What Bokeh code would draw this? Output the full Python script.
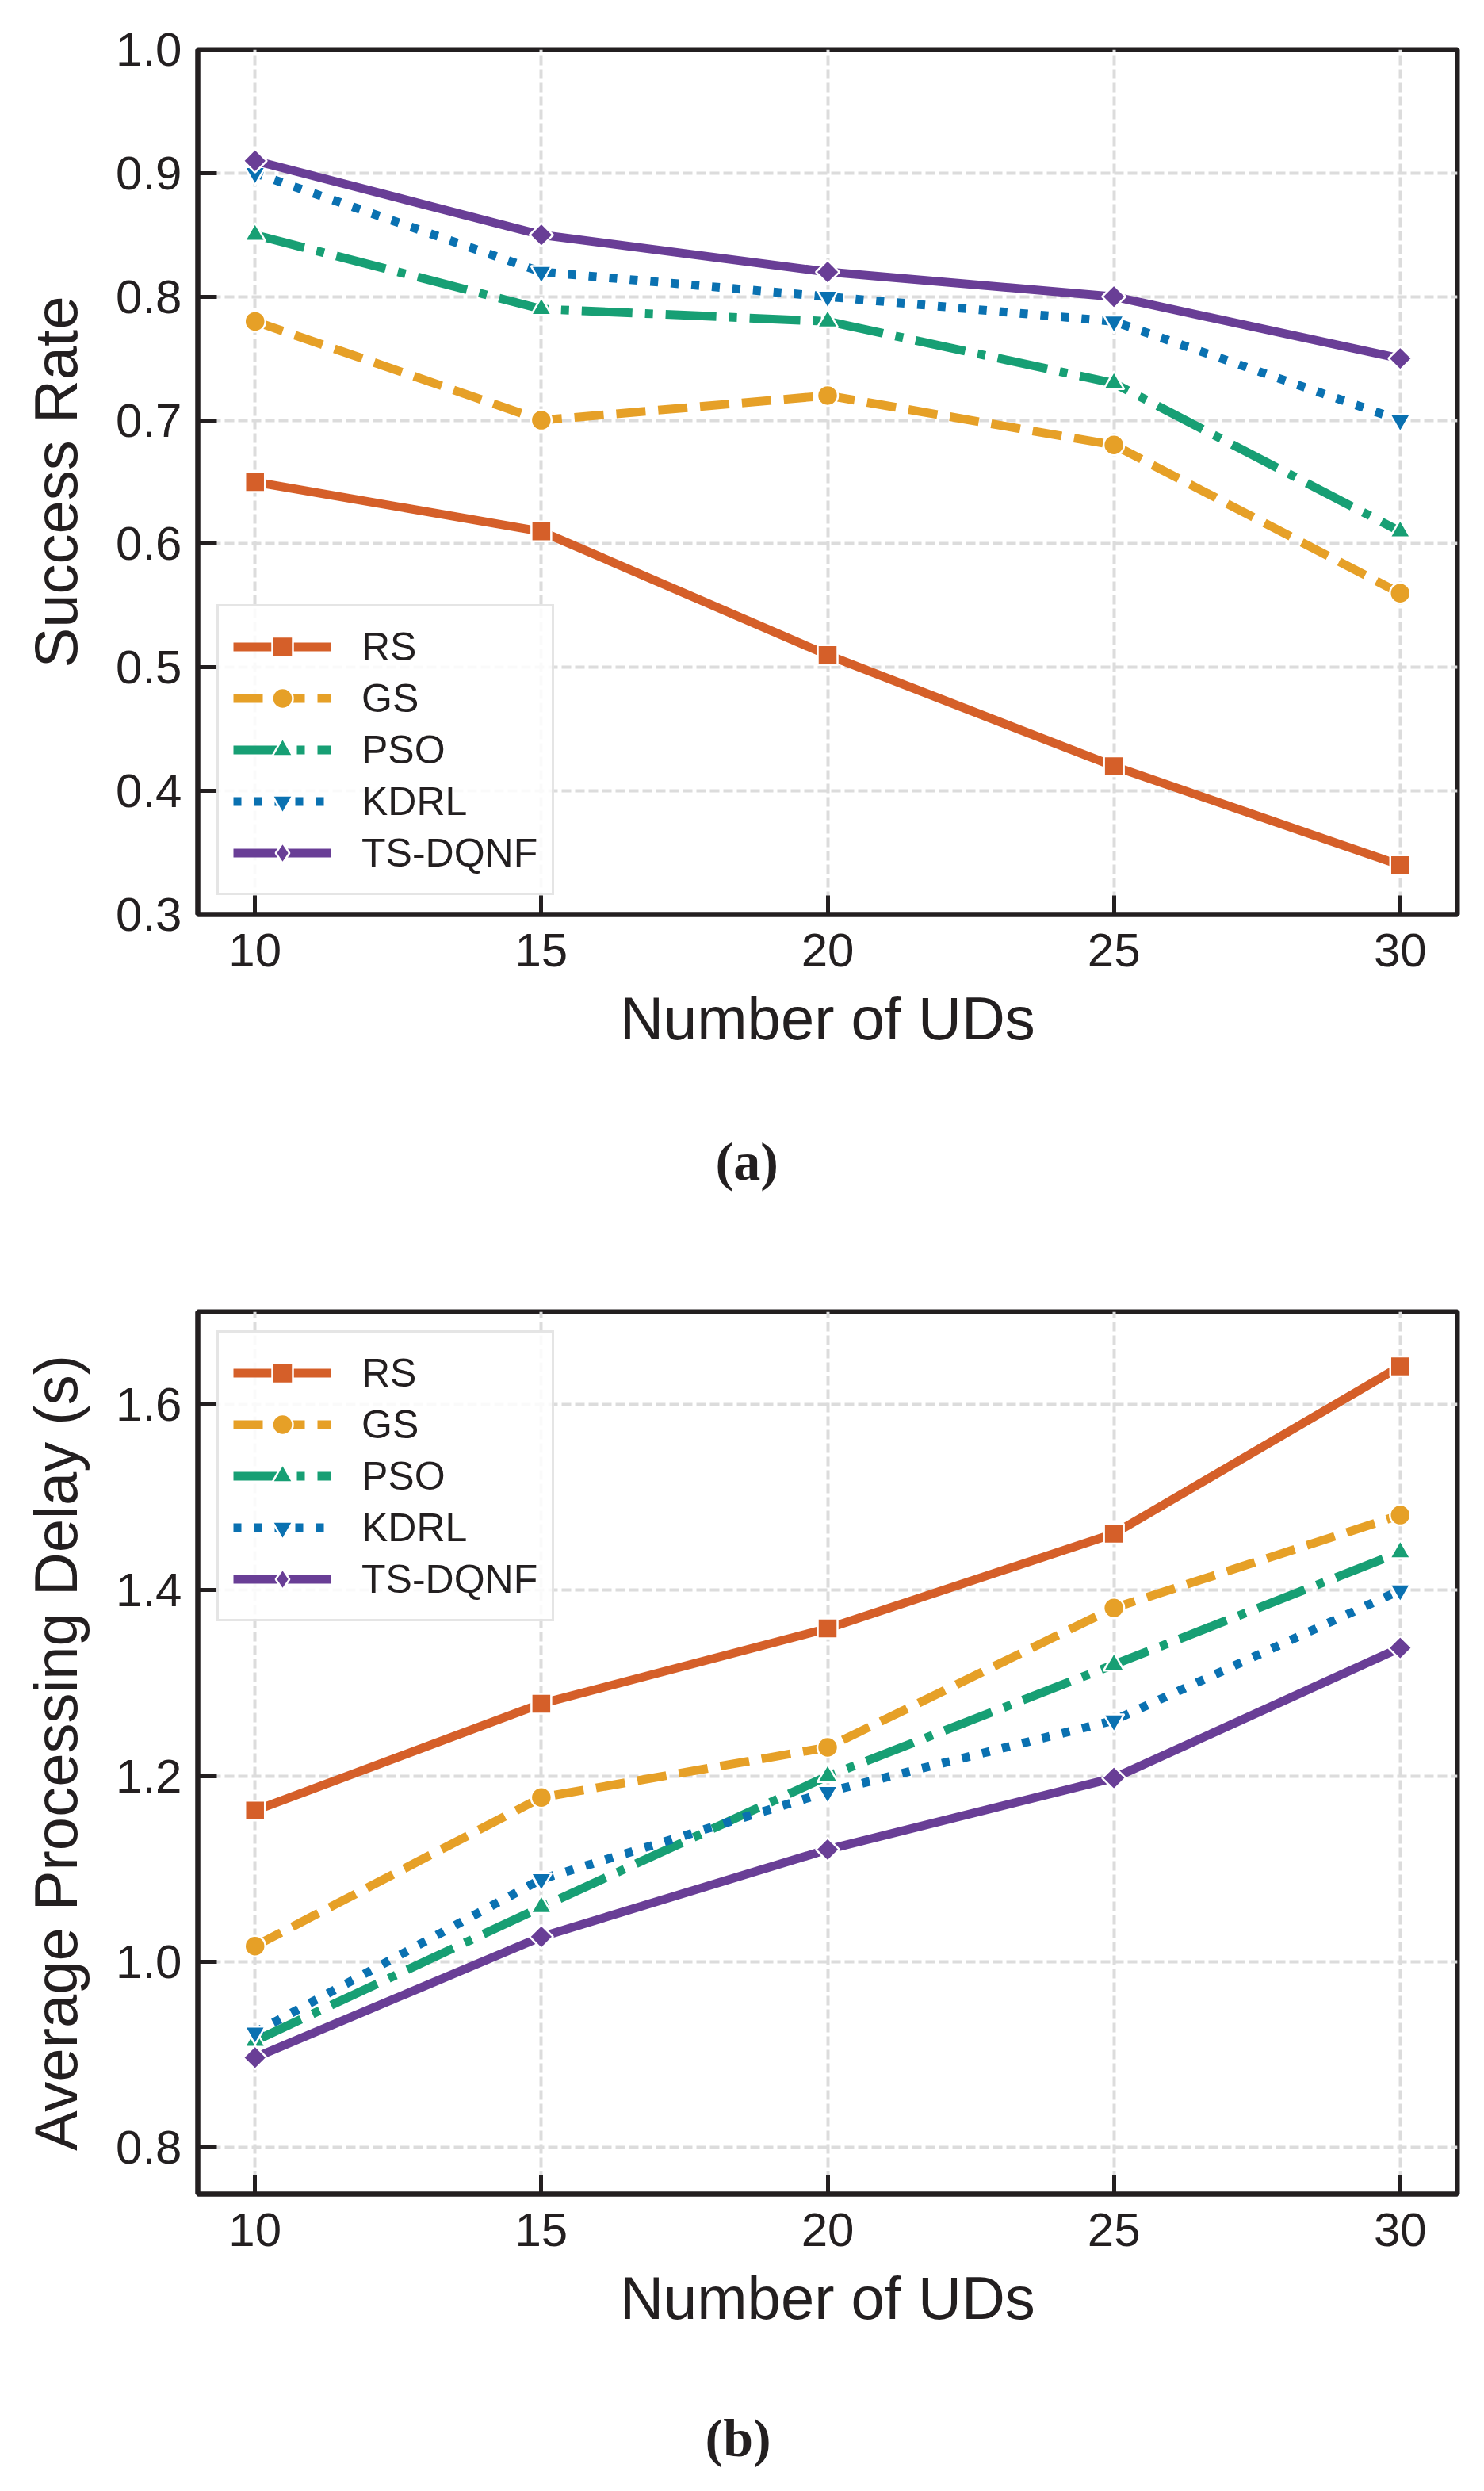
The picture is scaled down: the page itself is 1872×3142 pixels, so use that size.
import math
from bokeh.plotting import figure
from bokeh.layouts import column
from bokeh.models import Range1d, FixedTicker, NumeralTickFormatter, Legend, LegendItem, Title
from bokeh.embed import file_html
from bokeh.resources import INLINE

# ---------------- data ----------------
uds = [10, 15, 20, 25, 30]
methods = ["RS", "GS", "PSO", "KDRL", "TS-DQNF"]

success_rs = [0.65, 0.61, 0.51, 0.42, 0.34]
success_gs = [0.78, 0.70, 0.72, 0.68, 0.56]
success_pso = [0.85, 0.79, 0.78, 0.73, 0.61]
success_kdrl = [0.90, 0.82, 0.80, 0.78, 0.70]
success_ts = [0.91, 0.85, 0.82, 0.80, 0.75]

delay_rs = [1.163, 1.278, 1.359, 1.461, 1.641]
delay_gs = [1.017, 1.177, 1.231, 1.381, 1.481]
delay_pso = [0.915, 1.059, 1.200, 1.320, 1.441]
delay_kdrl = [0.924, 1.089, 1.183, 1.260, 1.400]
delay_ts = [0.897, 1.027, 1.121, 1.198, 1.338]

x_ticks = [10, 15, 20, 25, 30]
success_ticks = [0.3, 0.4, 0.5, 0.6, 0.7, 0.8, 0.9, 1.0]
delay_ticks = [0.8, 1.0, 1.2, 1.4, 1.6]
captions = ["(a)", "(b)"]

# ---------------- styles ----------------
DARK = "#231f20"
STYLE = {
    "RS": dict(color="#D55F29", dash="solid", marker="square", size=25, angle=0.0, legend_marker="square"),
    "GS": dict(color="#E6A027", dash="37 16", marker="circle", size=26, angle=0.0, legend_marker="circle"),
    "PSO": dict(color="#179F74", dash="64 16 10 16", marker="triangle", size=26, angle=0.0, legend_marker="triangle"),
    "KDRL": dict(color="#0A71B1", dash="10 16", marker="inverted_triangle", size=26, angle=0.0, legend_marker="inverted_triangle"),
    "TS-DQNF": dict(color="#693E96", dash="solid", marker="square", size=21, angle=math.pi / 4, legend_marker="diamond"),
}
LINE_W = 11


def make_panel(series, y_start, y_end, yticks, ylabel, legend_loc, height, top, bottom,
               caption, cap_offset, spacer_standoff):
    p = figure(width=1872, height=height,
               x_range=Range1d(9, 31), y_range=Range1d(y_start, y_end),
               output_backend="svg", toolbar_location=None,
               min_border_left=249, min_border_right=34,
               min_border_top=top, min_border_bottom=bottom)
    p.background_fill_color = "white"
    p.border_fill_color = "white"
    p.outline_line_color = DARK
    p.outline_line_width = 6

    p.xaxis.ticker = FixedTicker(ticks=x_ticks)
    p.xaxis.formatter = NumeralTickFormatter(format="0")
    p.yaxis.ticker = FixedTicker(ticks=yticks)
    p.yaxis.formatter = NumeralTickFormatter(format="0.0")
    p.xaxis.axis_label = "Number of UDs"
    p.yaxis.axis_label = ylabel
    for ax in (p.xaxis[0], p.yaxis[0]):
        ax.axis_line_color = DARK
        ax.axis_line_width = 6
        ax.major_tick_in = 24
        ax.major_tick_out = 0
        ax.major_tick_line_width = 5
        ax.major_tick_line_color = DARK
        ax.minor_tick_line_color = None
        ax.major_label_text_font = "Liberation Sans"
        ax.major_label_text_font_size = "60px"
        ax.major_label_text_color = DARK
        ax.axis_label_text_font = "Liberation Sans"
        ax.axis_label_text_font_size = "76px"
        ax.axis_label_text_font_style = "normal"
        ax.axis_label_text_color = DARK
    p.xaxis.major_label_standoff = 24
    p.xaxis.axis_label_standoff = 20
    p.yaxis.major_label_standoff = 20
    p.yaxis.axis_label_standoff = 30

    for g in (p.xgrid[0], p.ygrid[0]):
        g.grid_line_color = "#dcdcdc"
        g.grid_line_width = 4
        g.grid_line_dash = "12 5"

    items = []
    for name, ys in zip(methods, series):
        st = STYLE[name]
        ln = p.line(uds, ys, line_color=st["color"], line_width=LINE_W, line_dash=st["dash"])
        sc = p.scatter(uds, ys, marker=st["marker"], size=st["size"], angle=st["angle"],
                       fill_color=st["color"], line_color="white", line_width=2.5)
        if st["legend_marker"] != st["marker"]:
            leg = p.scatter(uds, ys, marker=st["legend_marker"], size=28,
                            fill_color=st["color"], line_color="white", line_width=2.5)
            leg.visible = False
        else:
            leg = sc
        items.append(LegendItem(label=name, renderers=[ln, leg]))

    legend = Legend(items=items, location=legend_loc)
    legend.border_line_color = "#cccccc"
    legend.border_line_width = 3
    legend.background_fill_color = "white"
    legend.background_fill_alpha = 0.85
    legend.glyph_width = 124
    legend.glyph_height = 65
    legend.label_height = 65
    legend.label_standoff = 38
    legend.padding = 18
    legend.spacing = 0
    legend.margin = 24
    legend.label_text_font = "Liberation Sans"
    legend.label_text_font_size = "50px"
    legend.label_text_color = DARK
    legend.label_text_baseline = "middle"
    p.add_layout(legend)

    # empty spacer title to push the caption further down, then the caption itself
    spacer = Title(text=" ", standoff=spacer_standoff, text_font="Liberation Serif",
                   text_font_size="68px", text_color=DARK)
    p.add_layout(spacer, "below")
    cap = Title(text=caption, align="left", offset=cap_offset, standoff=10,
                text_font="Liberation Serif", text_font_size="68px", text_font_style="bold",
                text_color=DARK)
    p.add_layout(cap, "below")
    return p


p1 = make_panel([success_rs, success_gs, success_pso, success_kdrl, success_ts],
                0.3, 1.0, success_ticks, "Success Rate", "bottom_left",
                1570, 62, 417, captions[0], 653, 12)
p2 = make_panel([delay_rs, delay_gs, delay_pso, delay_kdrl, delay_ts],
                0.75, 1.70, delay_ticks, "Average Processing Delay (s)", "top_left",
                1572, 84, 375, captions[1], 640, 8)

layout = column(p1, p2, spacing=0)
open("out.html", "w").write(file_html(layout, INLINE))
